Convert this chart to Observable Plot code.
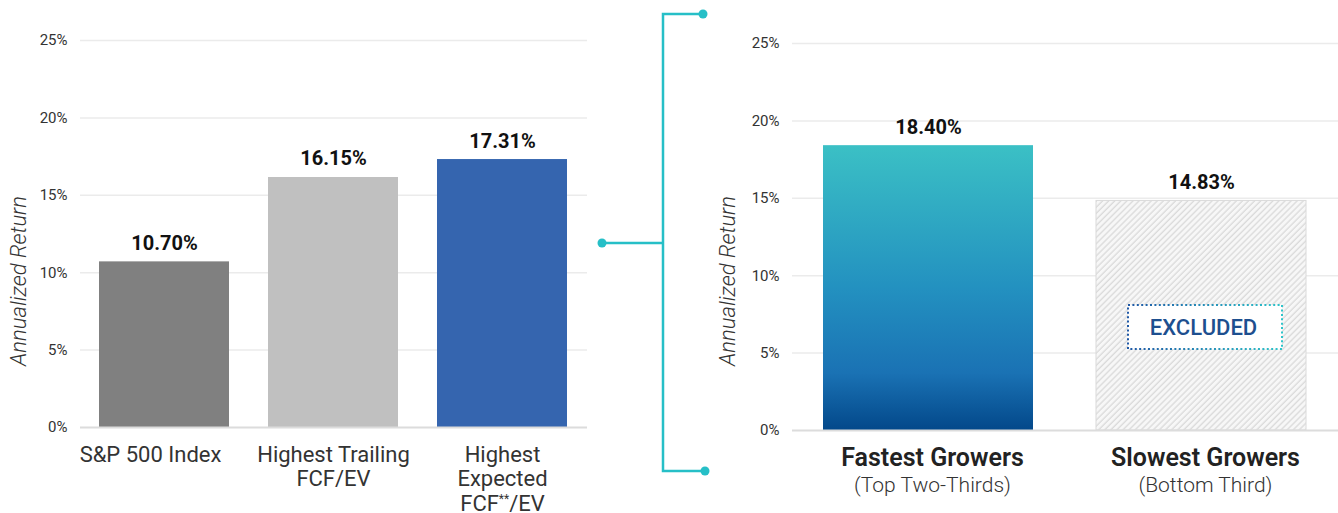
<!DOCTYPE html>
<html><head><meta charset="utf-8">
<script src="https://cdn.jsdelivr.net/npm/d3@7"></script>
<script src="https://cdn.jsdelivr.net/npm/@observablehq/plot@0.6"></script>
<style>
html,body{margin:0;padding:0;background:#fff;}
#wrap{position:relative;width:1338px;height:513px;overflow:hidden;font-family:Roboto, "Noto Sans", sans-serif;}
#left{position:absolute;left:0;top:0;}
#right{position:absolute;left:700px;top:0;}
#bracket{position:absolute;left:0;top:0;pointer-events:none;}
#defs{position:absolute;left:0;top:0;}
</style></head><body>
<div id="wrap">
<svg id="defs" width="0" height="0">
  <defs>
    <linearGradient id="fastGrad" x1="0" y1="0" x2="0" y2="1">
      <stop offset="0" stop-color="#3bc0c5"/>
      <stop offset="0.5" stop-color="#2391c0"/>
      <stop offset="0.8" stop-color="#1a72b4"/>
      <stop offset="1" stop-color="#03488a"/>
    </linearGradient>
    <linearGradient id="exclGrad" x1="0" y1="0" x2="1" y2="0">
      <stop offset="0" stop-color="#1f58a6"/>
      <stop offset="1" stop-color="#2ec4ca"/>
    </linearGradient>
    <pattern id="hatch" patternUnits="userSpaceOnUse" width="4.3" height="4.3" patternTransform="rotate(45)">
      <rect width="4.3" height="4.3" fill="#f7f7f7"/>
      <line x1="1" y1="0" x2="1" y2="4.3" stroke="#d4d4d4" stroke-width="1.1"/>
    </pattern>
  </defs>
</svg>
<div id="left"></div><div id="right"></div>
<svg id="bracket" width="1338" height="513"></svg>
</div>
<script>
// ---- data ----
const leftCategories = ["S&P 500 Index", "Highest Trailing\nFCF/EV", "Highest\nExpected\nFCF**/EV"];
const leftValues = [10.70, 16.15, 17.31];
const leftColors = ["#808080", "#c0c0c0", "#3565af"];
const rightCategories = ["Fastest Growers", "Slowest Growers"];
const rightSubtitles = ["(Top Two-Thirds)", "(Bottom Third)"];
const rightValues = [18.40, 14.83];
const yTicks = [0, 5, 10, 15, 20, 25];
const yLabel = "Annualized Return";
const excludedLabel = "EXCLUDED";
const excludedRange = [5.23, 8.07];

const left = leftCategories.map((c, i) => ({cat: c, value: leftValues[i]}));
const right = rightCategories.map((c, i) => ({cat: c, sub: rightSubtitles[i], value: rightValues[i]}));
const fmt = v => v.toFixed(2) + "%";
const font = "Roboto, 'Noto Sans', sans-serif";

function commonMarks(dxLabel, dyLabel) {
  return [
    Plot.ruleY(yTicks.filter(t => t > 0), {stroke: "#ebebeb", strokeWidth: 1.5}),
    Plot.text(yTicks, {y: d => d, text: d => d + "%", frameAnchor: "left", textAnchor: "end", dx: -13, fontSize: 15, fill: "#333"}),
    Plot.text([yLabel], {text: d => d, frameAnchor: "left", textAnchor: "middle", rotate: -90, dx: dxLabel, dy: dyLabel, fontSize: 22, fontStyle: "italic", fontWeight: 300, fill: "#333"})
  ];
}

const leftPlot = Plot.plot({
  width: 600, height: 513,
  marginLeft: 80, marginRight: 13, marginTop: 40, marginBottom: 86,
  style: {fontFamily: font, background: "transparent", overflow: "visible"},
  x: {domain: leftCategories, paddingInner: 0.23, paddingOuter: 0.115, axis: null},
  y: {domain: [0, 25], axis: null},
  color: {domain: leftCategories, range: leftColors},
  marks: [
    ...commonMarks(-62, 47),
    Plot.barY(left, {x: "cat", y: "value", fill: "cat"}),
    Plot.ruleY([0], {stroke: "#dcdcdc", strokeWidth: 2}),
    Plot.text(left, {x: "cat", y: "value", text: d => fmt(d.value), lineAnchor: "bottom", dy: -12, fontSize: 20, fontWeight: "bold", fill: "#111"}),
    Plot.text(left, {x: "cat", text: "cat", filter: (d, i) => i === 0, frameAnchor: "bottom", lineAnchor: "top", dx: -14, dy: 17, fontSize: 22, lineHeight: 25 / 22, fill: "#333"}),
    Plot.text(left, {x: "cat", text: "cat", filter: (d, i) => i > 0, frameAnchor: "bottom", lineAnchor: "top", dy: 17, fontSize: 22, lineHeight: 24.5 / 22, fill: "#333"})
  ]
});
document.getElementById("left").appendChild(leftPlot);

// superscript asterisks
const NS = "http://www.w3.org/2000/svg";
leftPlot.querySelectorAll("tspan").forEach(t => {
  if (t.textContent.includes("**")) {
    const [a, b] = t.textContent.split("**");
    t.textContent = a;
    const s = document.createElementNS(NS, "tspan");
    s.setAttribute("dy", "-8"); s.setAttribute("font-size", "12"); s.textContent = "**";
    const r = document.createElementNS(NS, "tspan");
    r.setAttribute("dy", "8"); r.textContent = b;
    t.appendChild(s); t.appendChild(r);
  }
});

const excl = [{cat: rightCategories[1], y1: excludedRange[0], y2: excludedRange[1], label: excludedLabel}];

const rightPlot = Plot.plot({
  width: 638, height: 513,
  marginLeft: 92, marginRight: 0, marginTop: 43, marginBottom: 83,
  style: {fontFamily: font, background: "transparent", overflow: "visible"},
  x: {domain: rightCategories, paddingInner: 0.23, paddingOuter: 0.115, axis: null},
  y: {domain: [0, 25], axis: null},
  marks: [
    ...commonMarks(-65, 44),
    Plot.barY(right, {x: "cat", y: "value", filter: (d, i) => i === 0, fill: "url(#fastGrad)"}),
    Plot.barY(right, {x: "cat", y: "value", filter: (d, i) => i === 1, fill: "url(#hatch)", stroke: "#dadada", strokeWidth: 1}),
    Plot.ruleY([0], {stroke: "#dcdcdc", strokeWidth: 2}),
    Plot.barY(excl, {x: "cat", y1: "y1", y2: "y2", insetLeft: 32, insetRight: 24, fill: "white", stroke: "url(#exclGrad)", strokeWidth: 2, strokeDasharray: "2 2.4"}),
    Plot.text(excl, {x: "cat", y: d => (d.y1 + d.y2) / 2, text: "label", dx: 2, fontSize: 22, fontWeight: 500, fill: "#1d4f8f"}),
    Plot.text(right, {x: "cat", y: "value", text: d => fmt(d.value), lineAnchor: "bottom", dy: -12, fontSize: 20, fontWeight: "bold", fill: "#111"}),
    Plot.text(right, {x: "cat", text: "cat", frameAnchor: "bottom", lineAnchor: "top", dx: 4, dy: 18, fontSize: 25, fontWeight: 600, fill: "#222"}),
    Plot.text(right, {x: "cat", text: "sub", frameAnchor: "bottom", lineAnchor: "top", dx: 4, dy: 47, fontSize: 21, fontWeight: 300, fill: "#333"})
  ]
});
document.getElementById("right").appendChild(rightPlot);

// connector bracket (decoration)
const br = d3.select("#bracket");
const teal = "#26bfc7";
const path = "M602,243 H663 M703,14 H663 V471 H705";
br.append("path").attr("d", path).attr("fill", "none").attr("stroke", teal).attr("stroke-width", 2.5);
[[602, 243], [703, 14], [705, 471]].forEach(([cx, cy]) =>
  br.append("circle").attr("cx", cx).attr("cy", cy).attr("r", 4.5).attr("fill", teal));
</script>
</body></html>
